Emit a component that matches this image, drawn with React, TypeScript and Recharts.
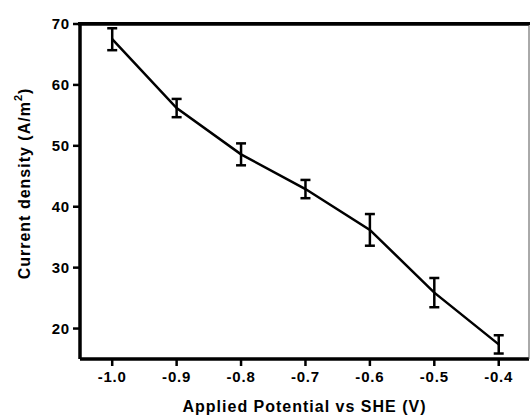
import * as RC from "recharts";
import { LineChart, Line, XAxis, YAxis, ErrorBar, Label, ReferenceLine } from "recharts";

const potentials = [-1.0, -0.9, -0.8, -0.7, -0.6, -0.5, -0.4];
const currentDensity = [67.5, 56.2, 48.6, 42.9, 36.2, 25.9, 17.4];
const errors = [1.8, 1.5, 1.8, 1.5, 2.6, 2.4, 1.5];
const xTicks = [-1.0, -0.9, -0.8, -0.7, -0.6, -0.5, -0.4];
const yTicks = [20, 30, 40, 50, 60, 70];

const data = potentials.map((p, i) => ({ x: p, y: currentDensity[i], err: errors[i] }));

const W = 530;
const H = 417;
const TOP = 24;
const YAXIS_W = 80;

const font = "'Liberation Sans', Arial, sans-serif";
const tickStyle = { fill: "#000", fontSize: 15, fontWeight: 700, fontFamily: font, letterSpacing: 0.8 };
const titleStyle = { fontSize: 16, fontWeight: 700, fontFamily: font, fill: "#000", letterSpacing: 1 };

// thick frame line along the top of the plot area
const TopBorder = () => {
  const hook = (RC as any).usePlotArea;
  const area = hook ? hook() : null;
  if (!area) return null;
  return <line x1={area.x - 1.75} x2={area.x + area.width} y1={area.y} y2={area.y} stroke="#000" strokeWidth={3.5} />;
};

const YTitle = (props: any) => {
  const vb = props.viewBox || {};
  const cx = 24;
  const cy = vb.y + vb.height / 2 - 8;
  return (
    <text x={cx} y={cy} transform={`rotate(-90, ${cx}, ${cy})`} textAnchor="middle" dominantBaseline="central" style={titleStyle}>
      Current density (A/m
      <tspan baselineShift="super" fontSize={11}>2</tspan>
      )
    </text>
  );
};

const App = () => {
  return (
    <div style={{ position: "absolute", left: 0, top: 0, width: W, height: H, background: "#fff" }}>
      <LineChart width={W} height={H} data={data} margin={{ top: TOP, right: 0, bottom: 0, left: 0 }}>
        <XAxis
          type="number"
          dataKey="x"
          domain={[-1.05, -0.353]}
          ticks={xTicks}
          tickFormatter={(v: number) => v.toFixed(1)}
          tick={tickStyle}
          tickSize={7}
          tickMargin={5}
          tickLine={{ stroke: "#000", strokeWidth: 2.5 }}
          axisLine={{ stroke: "#000", strokeWidth: 3.5 }}
          height={58}
          allowDataOverflow
        >
          <Label value="Applied Potential vs SHE (V)" position="insideBottom" offset={5} style={titleStyle} />
        </XAxis>
        <YAxis
          type="number"
          domain={[15, 70]}
          ticks={yTicks}
          tick={tickStyle}
          tickSize={7}
          tickMargin={3}
          tickLine={{ stroke: "#000", strokeWidth: 2.5 }}
          axisLine={{ stroke: "#000", strokeWidth: 3.5 }}
          width={YAXIS_W}
          allowDataOverflow
          label={<YTitle />}
        />
        <YAxis
          yAxisId="right"
          orientation="right"
          type="number"
          domain={[15, 70]}
          tick={false}
          tickLine={false}
          axisLine={{ stroke: "#555", strokeWidth: 1 }}
          width={1}
        />
        <ReferenceLine y={69} stroke="none" />
        <TopBorder />
        <Line type="linear" dataKey="y" stroke="#000" strokeWidth={2.5} dot={false} isAnimationActive={false}>
          <ErrorBar dataKey="err" direction="y" width={5} stroke="#000" strokeWidth={2.5} isAnimationActive={false} />
        </Line>
      </LineChart>
      <div
        style={{
          position: "absolute",
          left: YAXIS_W - 2,
          top: TOP - 2,
          width: W - YAXIS_W + 2,
          height: 0,
          borderTop: "3.5px solid #000",
          pointerEvents: "none",
        }}
      />
    </div>
  );
};

export default App;
